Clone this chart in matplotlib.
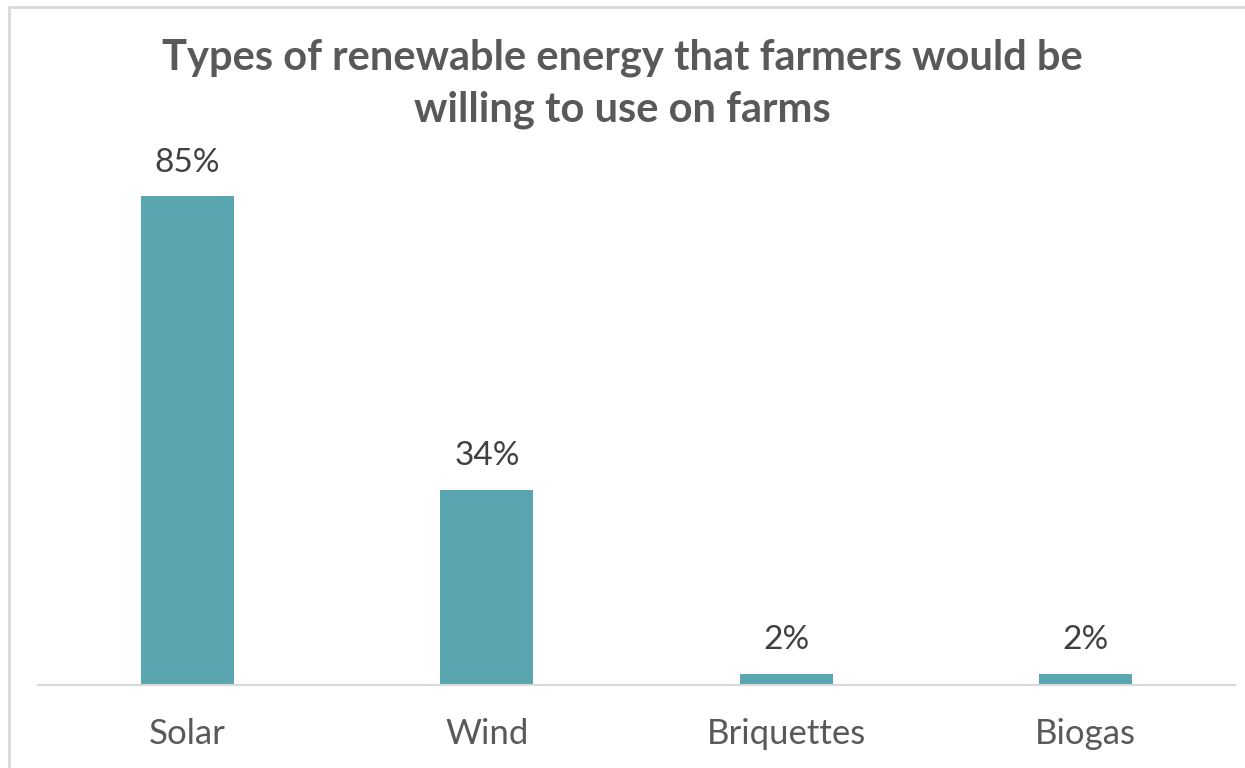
import matplotlib
matplotlib.use('Agg')
import matplotlib.pyplot as plt
from matplotlib.patches import Rectangle

categories = ['Solar', 'Wind', 'Briquettes', 'Biogas']
shares = [85, 34, 2, 2]
labels = ['85%', '34%', '2%', '2%']

plt.rcParams['font.family'] = ['Lato', 'DejaVu Sans']

W, H = 1245, 768
fig = plt.figure(figsize=(W / 100, H / 100), dpi=100)

# outer chart border (light grey), runs off right/bottom edges
fig.patches.append(Rectangle((9 / W, -0.05), 1.1, (H - 7) / H + 0.05, transform=fig.transFigure,
                             fill=False, edgecolor='#D9D9D9', linewidth=2))

ax = fig.add_axes([38 / W, 83 / H, (1235 - 38) / W, 575 / H])
x = range(len(categories))
bars = ax.bar(x, shares, width=0.31, color='#59A5B0')
ax.set_xlim(-0.5, len(categories) - 0.5)
ax.set_ylim(0, 100)
for s in ['top', 'right', 'left']:
    ax.spines[s].set_visible(False)
ax.spines['bottom'].set_color('#D9D9D9')
ax.spines['bottom'].set_linewidth(1.5)
ax.set_yticks([])
ax.set_xticks(list(x))
ax.set_xticklabels(categories, fontsize=25, color='#595959')
ax.tick_params(axis='x', length=0, pad=24)

for b, lab in zip(bars, labels):
    ax.annotate(lab, (b.get_x() + b.get_width() / 2, b.get_height()), xytext=(0, 13),
                textcoords='offset points', ha='center', va='bottom', fontsize=24, color='#404040')

fig.text(0.5, (768 - 84) / H, 'Types of renewable energy that farmers would be\nwilling to use on farms',
         ha='center', va='center', fontsize=30, fontweight='bold', color='#595959', linespacing=1.45)

fig.savefig('out.png', dpi=100)
